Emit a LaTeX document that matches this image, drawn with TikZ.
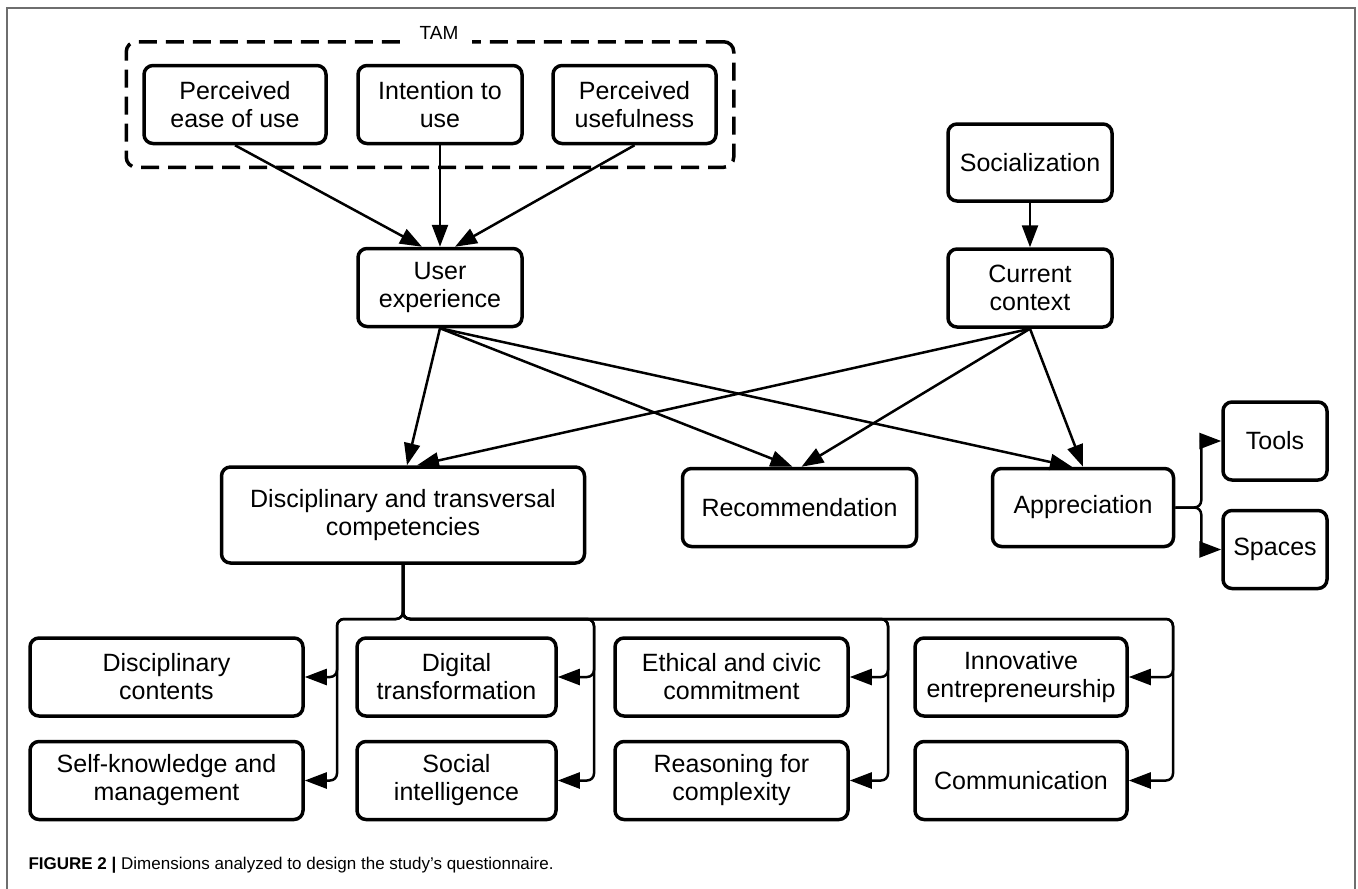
\documentclass[tikz,border=0pt]{standalone}
\usepackage{fontspec}
\setmainfont{Liberation Sans}
\usepackage{tikz}
\usetikzlibrary{arrows.meta, shapes, fit}
\definecolor{figframe}{RGB}{110,110,110}
\tikzstyle{box} = [rectangle, rounded corners=9pt, minimum height=78pt, inner sep=0pt, align=center, draw=black, line width=3.5pt, font=\fontsize{25}{28}\selectfont]
\tikzstyle{group} = [rectangle, rounded corners=10pt, draw=black, line width=3.5pt, dash pattern=on 18pt off 9pt]
\tikzstyle{arrow} = [line width=2.5pt, -{Triangle[length=22pt, width=16pt]}]
\tikzstyle{branch} = [arrow, rounded corners=7pt]

\begin{document}
\begin{tikzpicture}[x=1pt, y=-1pt, node distance=100pt]
		\useasboundingbox (0,0) rectangle (1358,889);
		\draw [figframe, line width=1.5pt] (7,889) -- (7,8) -- (1355,8) -- (1355,889);
		
		% Nodes
		\node (intent) [box, minimum width=164pt] at (440,104.5) {Intention to\\use};
		\node (ease) [box, minimum width=182pt, left of=intent, xshift=-105pt] {Perceived\\ease of use};
		\node (useful) [box, minimum width=163pt, right of=intent, xshift=94.5pt] {Perceived\\usefulness};
		\node (tam) [group, fit=(ease)(intent)(useful), inner xsep=16pt, inner ysep=22pt] {};
		\node (tamlabel) [fill=white, inner xsep=14pt, inner ysep=6pt, font=\fontsize{19}{22}\selectfont] at ([xshift=9pt, yshift=7pt]tam.north) {TAM};
		\node (ux) [box, minimum width=164pt, below of=intent, yshift=-83pt] {User\\experience};
		\node (social) [box, minimum width=164pt, minimum height=77pt] at (1030,162.5) {Socialization};
		\node (context) [box, minimum width=164pt, below of=social, yshift=-25.5pt] {Current\\context};
		\node (dtc) [box, minimum width=363pt, minimum height=96pt, below of=ux, xshift=-37pt, yshift=-127.5pt] {Disciplinary and transversal\\competencies};
		\node (recom) [box, minimum width=234pt, right of=dtc, xshift=296.5pt, yshift=7.5pt] {Recommendation};
		\node (apprec) [box, minimum width=181pt, right of=recom, xshift=183.5pt] {Appreciation};
		\node (tools) [box, minimum width=104pt] at (1275,441) {Tools};
		\node (spaces) [box, minimum width=104pt, below of=tools, yshift=-8.5pt] {Spaces};
		
		\node (discont) [box, minimum width=273pt] at (166.5,677) {Disciplinary\\contents};
		\node (selfknow) [box, minimum width=273pt, below of=discont, yshift=-3.5pt] {Self-knowledge and\\management};
		\node (digital) [box, minimum width=199pt, right of=discont, xshift=190pt] {Digital\\transformation};
		\node (socintel) [box, minimum width=199pt, below of=digital, yshift=-3.5pt] {Social\\intelligence};
		\node (ethical) [box, minimum width=233pt, right of=digital, xshift=175pt] {Ethical and civic\\commitment};
		\node (reasoning) [box, minimum width=233pt, below of=ethical, yshift=-3.5pt] {Reasoning for\\complexity};
		\node (innov) [box, minimum width=212pt, right of=ethical, xshift=189.5pt] {Innovative\\entrepreneurship};
		\node (comm) [box, minimum width=212pt, below of=innov, yshift=-3.5pt] {Communication};
		
		\node (caption) [anchor=west, font=\fontsize{17}{20}\selectfont] at (25,865) {\textbf{FIGURE 2 |} Dimensions analyzed to design the study’s questionnaire.};
		
		% Bus points
		\coordinate (bus1) at (337,619);
		\coordinate (bus2) at (594,619);
		\coordinate (bus3) at (888,619);
		\coordinate (bus4) at (1173,619);
		
		% Arrows
		\draw [arrow] (ease.south) -- ([xshift=-18pt]ux.north);
		\draw [arrow] (intent.south) -- (ux.north);
		\draw [arrow] (useful.south) -- ([xshift=15pt]ux.north);
		\draw [arrow] (social) -- (context);
		\draw [arrow] (ux.south) -- ([xshift=4pt]dtc.north);
		\draw [arrow] (ux.south) -- ([xshift=-7pt]recom.north);
		\draw [arrow] (ux.south) -- ([xshift=-11pt]apprec.north);
		\draw [arrow] (context.south) -- ([xshift=14pt]dtc.north);
		\draw [arrow] (context.south) -- ([xshift=2pt]recom.north);
		\draw [arrow] (context.south) -- (apprec.north);
		
		\draw [branch] (dtc.south) |- (bus1) |- (discont.east);
		\draw [branch] (dtc.south) |- (bus1) |- (selfknow.east);
		\draw [branch] (dtc.south) |- (bus2) |- (digital.east);
		\draw [branch] (dtc.south) |- (bus2) |- (socintel.east);
		\draw [branch] (dtc.south) |- (bus3) |- (ethical.east);
		\draw [branch] (dtc.south) |- (bus3) |- (reasoning.east);
		\draw [branch] (dtc.south) |- (bus4) |- (innov.east);
		\draw [branch] (dtc.south) |- (bus4) |- (comm.east);
		\draw [branch] (apprec.east) -- ++(26,0) |- (tools.west);
		\draw [branch] (apprec.east) -- ++(26,0) |- (spaces.west);
		
	\end{tikzpicture}
\end{document}
